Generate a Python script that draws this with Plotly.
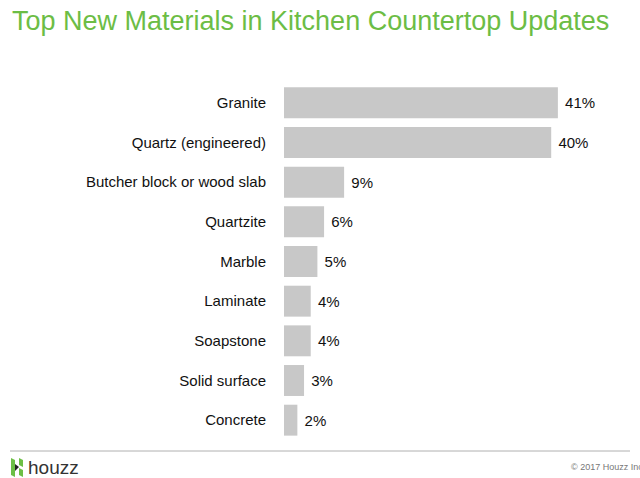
import plotly.graph_objects as go

categories = ["Granite", "Quartz (engineered)", "Butcher block or wood slab", "Quartzite",
              "Marble", "Laminate", "Soapstone", "Solid surface", "Concrete"]
values = [41, 40, 9, 6, 5, 4, 4, 3, 2]

W, H = 640, 478
L, R, T, B = 284, 618, 83, 440

def px(x):
    return (x - L) / (R - L)

def py(y):
    return (B - y) / (B - T)

FONT = "Liberation Sans, Arial, sans-serif"

fig = go.Figure(go.Bar(
    x=values, y=categories, orientation="h",
    marker=dict(color="#c8c8c8", line=dict(width=0)),
    texttemplate="\u00a0%{x}%", textposition="outside", cliponaxis=False,
    textfont=dict(size=15, color="#111111", family=FONT),
    width=0.78, hoverinfo="skip",
))

shapes = [
    dict(type="line", xref="paper", yref="paper", x0=px(10), x1=px(630), y0=py(451), y1=py(451),
         line=dict(color="#b0b0b0", width=1)),
    # houzz logo icon
    dict(type="path", xref="paper", yref="paper",
         path=f"M {px(11)} {py(458)} L {px(15)} {py(460)} L {px(15)} {py(477)} L {px(11)} {py(475)} Z",
         fillcolor="#6cbf45", line=dict(width=0)),
    dict(type="path", xref="paper", yref="paper",
         path=f"M {px(19)} {py(458)} L {px(23)} {py(460)} L {px(23)} {py(467)} L {px(19)} {py(465)} Z",
         fillcolor="#6cbf45", line=dict(width=0)),
    dict(type="path", xref="paper", yref="paper",
         path=f"M {px(19)} {py(468)} L {px(23)} {py(470)} L {px(23)} {py(477)} L {px(19)} {py(475)} Z",
         fillcolor="#6cbf45", line=dict(width=0)),
    dict(type="path", xref="paper", yref="paper",
         path=f"M {px(15)} {py(464)} L {px(19)} {py(467)} L {px(15)} {py(471)} Z",
         fillcolor="#222222", line=dict(width=0)),
]

annotations = [
    dict(text="houzz", xref="paper", yref="paper", x=px(26), y=py(467), xanchor="left", yanchor="middle",
         showarrow=False, font=dict(size=19, color="#333333", family=FONT)),
    dict(text="© 2017 Houzz Inc.", xref="paper", yref="paper", x=px(569), y=py(467), xanchor="left",
         yanchor="middle", showarrow=False, font=dict(size=9, color="#777777", family=FONT)),
]

fig.update_layout(
    width=W, height=H,
    margin=dict(l=L, r=W - R, t=T, b=H - B, pad=0),
    paper_bgcolor="white", plot_bgcolor="white",
    title=dict(text="Top New Materials in Kitchen Countertop Updates",
               xref="container", yref="container", x=12 / W, xanchor="left",
               y=1 - 11 / H, yanchor="top",
               font=dict(size=27, color="#6cbd45", family=FONT)),
    xaxis=dict(range=[0, 50], visible=False, fixedrange=True),
    yaxis=dict(autorange="reversed", showgrid=False, showline=False, zeroline=False,
               ticks="outside", ticklen=14, tickcolor="rgba(0,0,0,0)", fixedrange=True,
               tickfont=dict(size=15, color="#111111", family=FONT)),
    shapes=shapes, annotations=annotations,
    showlegend=False, bargap=0.22,
)

fig.write_html("out.html", config={"displayModeBar": False},
               post_script="document.body.style.margin='0';document.body.style.overflow='hidden';")
